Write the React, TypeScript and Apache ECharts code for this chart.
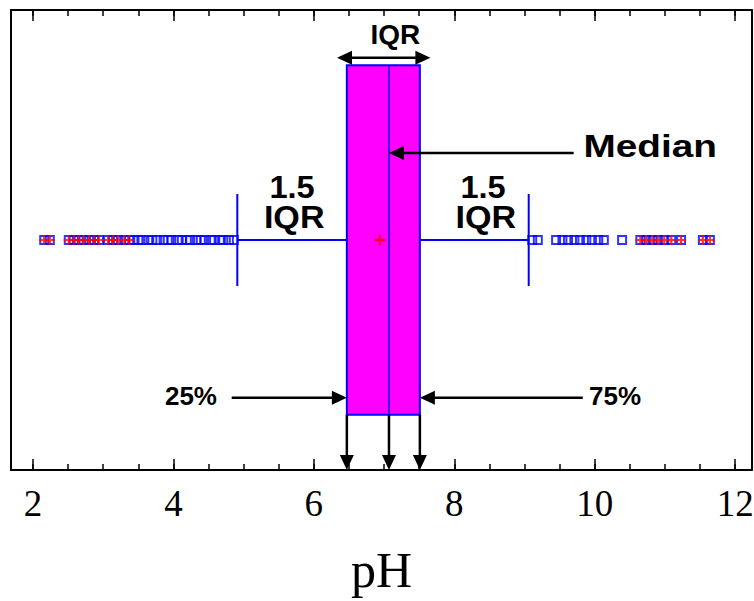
import React, { useEffect, useRef } from "react";
import * as echarts from "echarts";

// ---- data (pH values) ----
const majorTicks = [2, 4, 6, 8, 10, 12];
const minorTicks = [2, 2.5, 3, 3.5, 4, 4.5, 5, 5.5, 6, 6.5, 7, 7.5, 8, 8.5, 9, 9.5, 10, 10.5, 11, 11.5, 12];

const q1 = 6.47;
const median = 7.07;
const q3 = 7.51;
const mean = 6.94;
const whiskerLow = 4.91;
const whiskerHigh = 9.06;

// outliers beyond the whiskers
const lowFar = [2.16, 2.24, 2.51, 2.58, 2.65, 2.72, 2.8, 2.87, 2.94, 3.07, 3.14, 3.21, 3.3, 3.37];
const lowNear = [3.43, 3.5, 3.56, 3.64, 3.7, 3.77, 3.86, 3.92, 3.97, 4.06, 4.12, 4.19, 4.24, 4.33, 4.39, 4.44, 4.53, 4.58, 4.66, 4.71, 4.79, 4.86];
const highNear = [9.11, 9.19, 9.45, 9.54, 9.62, 9.71, 9.79, 9.88, 9.96, 10.05, 10.13, 10.39];
const highFar = [10.65, 10.73, 10.82, 10.9, 10.99, 11.09, 11.23, 11.54, 11.64];

// annotation arrows: [x1, y1, x2, y2, headAtStart, headAtEnd]
const arrows = [
  [6.33, 8.96, 7.66, 8.96, 1, 1],
  [9.7, 6.89, median, 6.89, 0, 1],
  [4.83, 1.57, q1, 1.57, 0, 1],
  [9.83, 1.57, q3, 1.57, 0, 1],
  [q1, 1.2, q1, 0, 0, 1],
  [median, 1.2, median, 0, 0, 1],
  [q3, 1.2, q3, 0, 0, 1],
];

// annotation labels
const labelTexts = ["IQR", "Median", "25%", "75%", "1.5", "IQR", "1.5", "IQR"];
const labelX = [7.16, 10.79, 4.25, 10.29, 5.69, 5.72, 8.41, 8.45];
const labelY = [9.46, 7.04, 1.61, 1.61, 6.15, 5.48, 6.15, 5.48];
const labelSize = [28, 31, 26, 26, 31, 31, 31, 31];
const labelStretch = [1, 1.25, 1, 1, 1.05, 1.1, 1.05, 1.1];

const ROW = 5;
const BOX_TOP = 8.8;
const BOX_BOTTOM = 1.2;
const CAP_TOP = 6;
const CAP_BOTTOM = 4;

const BLUE = "#0000ff";
const MAGENTA = "#ff00ff";
const RED = "#ff0000";
const PLUS = "path://M3.9,0h2.2v3.9h3.9v2.2h-3.9v3.9h-2.2v-3.9h-3.9v-2.2h3.9z";

export default function App() {
  const ref = useRef<HTMLDivElement>(null);
  useEffect(() => {
    if (!ref.current) return;
    const chart = echarts.init(ref.current, undefined, { renderer: "svg" });

    const xBase = {
      type: "value",
      min: 1.687,
      max: 12.24,
      splitLine: { show: false },
    };

    const option: any = {
      animation: false,
      backgroundColor: "#ffffff",
      grid: { left: 11, right: 2, top: 10, bottom: 131, containLabel: false, outerBoundsMode: "none" },
      xAxis: [
        {
          ...xBase,
          position: "bottom",
          axisLine: { show: true, onZero: false, lineStyle: { color: "#000", width: 2 } },
          axisTick: { show: true, inside: true, length: 11, customValues: majorTicks, lineStyle: { color: "#000", width: 1.5 } },
          axisLabel: {
            show: true,
            customValues: majorTicks,
            margin: 15,
            color: "#000",
            fontFamily: "Liberation Serif",
            fontSize: 37,
          },
          name: "pH",
          nameLocation: "middle",
          nameGap: 75,
          nameTextStyle: { fontFamily: "Liberation Serif", fontSize: 50, color: "#000" },
        },
        {
          ...xBase,
          position: "bottom",
          axisLine: { show: false, onZero: false },
          axisTick: { show: true, inside: true, length: 6, customValues: minorTicks, lineStyle: { color: "#000", width: 1.5 } },
          axisLabel: { show: false },
        },
        {
          ...xBase,
          position: "top",
          axisLine: { show: true, onZero: false, lineStyle: { color: "#000", width: 2 } },
          axisTick: { show: true, inside: true, length: 11, customValues: majorTicks, lineStyle: { color: "#000", width: 1.5 } },
          axisLabel: { show: false },
        },
        {
          ...xBase,
          position: "top",
          axisLine: { show: false, onZero: false },
          axisTick: { show: true, inside: true, length: 6, customValues: minorTicks, lineStyle: { color: "#000", width: 1.5 } },
          axisLabel: { show: false },
        },
      ],
      yAxis: [
        {
          type: "value",
          min: 0,
          max: 10,
          position: "left",
          axisLine: { show: true, onZero: false, lineStyle: { color: "#000", width: 2 } },
          axisTick: { show: false },
          axisLabel: { show: false },
          splitLine: { show: false },
        },
        {
          type: "value",
          min: 0,
          max: 10,
          position: "right",
          axisLine: { show: true, onZero: false, lineStyle: { color: "#000", width: 2 } },
          axisTick: { show: false },
          axisLabel: { show: false },
          splitLine: { show: false },
        },
      ],
      series: [
        // whiskers + box
        {
          type: "custom",
          xAxisIndex: 0,
          yAxisIndex: 0,
          z: 3,
          data: [[q1, ROW, q3, median, whiskerLow, whiskerHigh]],
          renderItem: (params: any, api: any) => {
            const a = api.value(0);
            const b = api.value(2);
            const m = api.value(3);
            const wl = api.value(4);
            const wh = api.value(5);
            const tl = api.coord([a, BOX_TOP]);
            const br = api.coord([b, BOX_BOTTOM]);
            const pWl = api.coord([wl, ROW]);
            const pWh = api.coord([wh, ROW]);
            const pA = api.coord([a, ROW]);
            const pB = api.coord([b, ROW]);
            const capT = api.coord([wl, CAP_TOP])[1];
            const capB = api.coord([wl, CAP_BOTTOM])[1];
            const pm = api.coord([m, ROW]);
            const ls = { stroke: BLUE, lineWidth: 2 };
            return {
              type: "group",
              children: [
                { type: "line", shape: { x1: pWl[0], y1: pWl[1], x2: pA[0], y2: pA[1] }, style: ls },
                { type: "line", shape: { x1: pB[0], y1: pB[1], x2: pWh[0], y2: pWh[1] }, style: ls },
                { type: "line", shape: { x1: pWl[0], y1: capT, x2: pWl[0], y2: capB }, style: ls },
                { type: "line", shape: { x1: pWh[0], y1: capT, x2: pWh[0], y2: capB }, style: ls },
                {
                  type: "rect",
                  shape: { x: tl[0], y: tl[1], width: br[0] - tl[0], height: br[1] - tl[1] },
                  style: { fill: MAGENTA, stroke: BLUE, lineWidth: 2 },
                },
                { type: "line", shape: { x1: pm[0], y1: tl[1], x2: pm[0], y2: br[1] }, style: { stroke: BLUE, lineWidth: 1.5 } },
              ],
            };
          },
        },
        // outlier squares
        {
          type: "scatter",
          xAxisIndex: 0,
          yAxisIndex: 0,
          z: 4,
          symbol: "rect",
          symbolSize: 8,
          itemStyle: { color: "rgba(0,0,0,0)", borderColor: BLUE, borderWidth: 2 },
          data: [...lowFar, ...lowNear, ...highNear, ...highFar].map((v) => [v, ROW]),
        },
        // extreme outlier crosses
        {
          type: "scatter",
          xAxisIndex: 0,
          yAxisIndex: 0,
          z: 5,
          symbol: PLUS,
          symbolSize: 10,
          itemStyle: { color: RED },
          data: [...lowFar, ...highFar].map((v) => [v, ROW]),
        },
        // mean
        {
          type: "scatter",
          xAxisIndex: 0,
          yAxisIndex: 0,
          z: 6,
          symbol: PLUS,
          symbolSize: 11,
          itemStyle: { color: RED },
          data: [[mean, ROW]],
        },
        // arrows
        {
          type: "custom",
          xAxisIndex: 0,
          yAxisIndex: 0,
          z: 7,
          data: arrows,
          renderItem: (params: any, api: any) => {
            const p1 = api.coord([api.value(0), api.value(1)]);
            const p2 = api.coord([api.value(2), api.value(3)]);
            const hs = api.value(4);
            const he = api.value(5);
            const dx = p2[0] - p1[0];
            const dy = p2[1] - p1[1];
            const len = Math.sqrt(dx * dx + dy * dy) || 1;
            const ux = dx / len;
            const uy = dy / len;
            const nx = -uy;
            const ny = ux;
            const L = 15;
            const W = 7;
            const children: any[] = [];
            let s = [p1[0], p1[1]];
            let e = [p2[0], p2[1]];
            if (he) {
              const bx = p2[0] - ux * L;
              const by = p2[1] - uy * L;
              children.push({
                type: "polygon",
                shape: { points: [[p2[0], p2[1]], [bx + nx * W, by + ny * W], [bx - nx * W, by - ny * W]] },
                style: { fill: "#000" },
              });
              e = [bx + ux * 2, by + uy * 2];
            }
            if (hs) {
              const bx = p1[0] + ux * L;
              const by = p1[1] + uy * L;
              children.push({
                type: "polygon",
                shape: { points: [[p1[0], p1[1]], [bx + nx * W, by + ny * W], [bx - nx * W, by - ny * W]] },
                style: { fill: "#000" },
              });
              s = [bx - ux * 2, by - uy * 2];
            }
            children.unshift({
              type: "line",
              shape: { x1: s[0], y1: s[1], x2: e[0], y2: e[1] },
              style: { stroke: "#000", lineWidth: 2.5 },
            });
            return { type: "group", children };
          },
        },
        // labels
        {
          type: "custom",
          xAxisIndex: 0,
          yAxisIndex: 0,
          z: 8,
          data: labelTexts.map((t, i) => [labelX[i], labelY[i], i]),
          renderItem: (params: any, api: any) => {
            const i = api.value(2);
            const p = api.coord([api.value(0), api.value(1)]);
            return {
              type: "text",
              x: p[0],
              y: p[1],
              scaleX: labelStretch[i],
              style: {
                text: labelTexts[i],
                fill: "#000",
                font: `bold ${labelSize[i]}px "Liberation Sans", Arial, sans-serif`,
                align: "center",
                verticalAlign: "middle",
              },
            };
          },
        },
      ],
    };

    chart.setOption(option);
    return () => chart.dispose();
  }, []);

  return <div ref={ref} style={{ width: 754, height: 601, position: "absolute", left: 0, top: 0 }} />;
}
